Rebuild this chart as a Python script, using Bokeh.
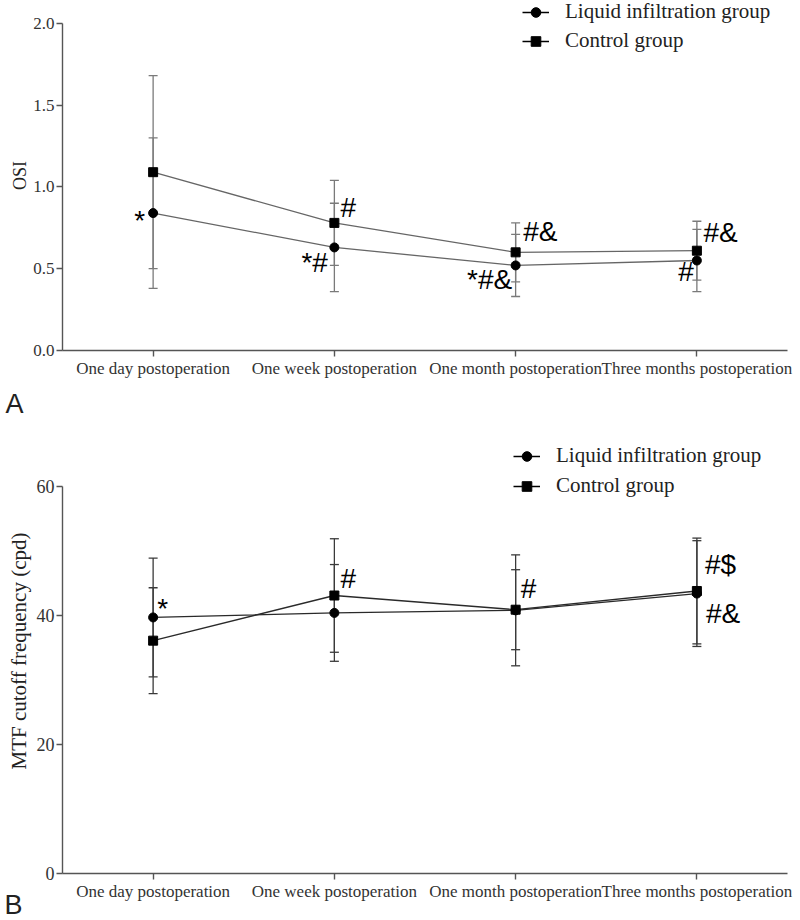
from bokeh.plotting import figure
from bokeh.models import (Range1d, FixedTicker, Whisker, TeeHead, ColumnDataSource,
                          Legend, LegendItem, Title, PrintfTickFormatter)
from bokeh.layouts import column
from bokeh.embed import file_html
from bokeh.resources import INLINE
from bokeh.core.properties import value

# ---------------- data ----------------
categories = ["One day postoperation", "One week postoperation",
              "One month postoperation", "Three months postoperation"]
x_pos = [0, 1, 2, 3]
series_names = ["Liquid infiltration group", "Control group"]

# Panel A: OSI (mean, SD)
osi_liquid = [0.84, 0.63, 0.52, 0.55]
osi_liquid_sd = [0.46, 0.27, 0.19, 0.19]
osi_control = [1.09, 0.78, 0.60, 0.61]
osi_control_sd = [0.59, 0.26, 0.18, 0.18]
osi_ticks = [0.0, 0.5, 1.0, 1.5, 2.0]

# Panel B: MTF cutoff frequency (mean, SD)
mtf_liquid = [39.7, 40.4, 40.8, 43.4]
mtf_liquid_sd = [9.2, 7.5, 8.6, 8.2]
mtf_control = [36.1, 43.1, 40.9, 43.8]
mtf_control_sd = [8.2, 8.8, 6.2, 8.2]
mtf_ticks = [0, 20, 40, 60]

# significance marks: text, category index, series it belongs to
osi_marks = ["*", "#", "*#", "#&", "*#&", "#&", "#"]
osi_mark_cat = [0, 1, 1, 2, 2, 3, 3]
osi_mark_series = ["liquid", "control", "liquid", "control", "liquid", "control", "liquid"]
mtf_marks = ["*", "#", "#", "#$", "#&"]
mtf_mark_cat = [0, 1, 2, 3, 3]
mtf_mark_series = ["liquid", "control", "control", "control", "liquid"]

# ---------------- layout / style (pixels) ----------------
osi_mark_align = ["right", "left", "right", "left", "right", "left", "right"]
osi_mark_dx = [-8, 6, -6.5, 7.5, -3.5, 6.5, -3]
osi_mark_dy = [7, -15, 14.6, -20.7, 14, -18.4, 11]
mtf_mark_align = ["left", "left", "left", "left", "left"]
mtf_mark_dx = [4, 6, 5, 8, 9]
mtf_mark_dy = [-8.7, -17, -21.2, -26.8, 20]

SERIF = "Liberation Serif"
SANS = "Liberation Sans"
NAN = float("nan")


def build_panel(height, borders, frame_px, axis_top_px, ticks, fmt, ylabel, ylabel_size,
                ylabel_standoff, tick_label_size, liq, liq_sd, ctl, ctl_sd, line_color,
                bar_color, marks, mark_cat, mark_series, mark_align, mark_dx, mark_dy,
                legend_loc, legend_spacing, panel_letter, letter_offset, letter_standoff):
    left, right, top, bottom = borders
    # frame reaches the top of the canvas; the axis itself stops at the last tick
    y_end = ticks[-1] * frame_px / (frame_px - axis_top_px)
    p = figure(width=800, height=height, output_backend="svg", toolbar_location=None,
               x_range=Range1d(-0.5, 3.5), y_range=Range1d(0, y_end),
               min_border_left=left, min_border_right=right,
               min_border_top=top, min_border_bottom=bottom)
    p.outline_line_color = None
    p.grid.visible = False
    p.background_fill_color = "white"
    p.border_fill_color = "white"

    xa = p.xaxis[0]
    ya = p.yaxis[0]
    xa.ticker = FixedTicker(ticks=x_pos)
    xa.major_label_overrides = {i: c for i, c in zip(x_pos, categories)}
    ya.ticker = FixedTicker(ticks=ticks)
    ya.formatter = PrintfTickFormatter(format=fmt)
    ya.bounds = (ticks[0], ticks[-1])
    for ax in (xa, ya):
        ax.axis_line_color = "#555555"
        ax.axis_line_width = 1.4
        ax.major_tick_line_color = "#555555"
        ax.major_tick_line_width = 1.4
        ax.major_tick_out = 6
        ax.major_tick_in = 0
        ax.minor_tick_out = 0
        ax.minor_tick_in = 0
        ax.major_label_text_font = SERIF
        ax.major_label_text_color = "#333333"
        ax.major_label_standoff = 2
    xa.major_label_text_font_size = "17px"
    ya.major_label_text_font_size = tick_label_size
    ya.axis_label = ylabel
    ya.axis_label_text_font = SERIF
    ya.axis_label_text_font_size = ylabel_size
    ya.axis_label_text_font_style = "normal"
    ya.axis_label_text_color = "#222222"
    ya.axis_label_standoff = ylabel_standoff

    # error bars
    for mean, sd in ((liq, liq_sd), (ctl, ctl_sd)):
        src = ColumnDataSource(dict(x=x_pos,
                                    upper=[m + s for m, s in zip(mean, sd)],
                                    lower=[m - s for m, s in zip(mean, sd)]))
        w = Whisker(source=src, base="x", upper="upper", lower="lower",
                    line_color=bar_color, line_width=1.3,
                    upper_head=TeeHead(size=9, line_color=bar_color, line_width=1.3),
                    lower_head=TeeHead(size=9, line_color=bar_color, line_width=1.3))
        p.add_layout(w)

    # lines + markers
    p.line(x_pos, liq, line_color=line_color, line_width=1.3)
    p.line(x_pos, ctl, line_color=line_color, line_width=1.3)
    p.scatter(x_pos, liq, marker="circle", size=9, color="black")
    p.scatter(x_pos, ctl, marker="square", size=9, color="black")

    # significance marks
    for align in ("left", "right"):
        idx = [i for i, a in enumerate(mark_align) if a == align]
        if not idx:
            continue
        src = ColumnDataSource(dict(
            x=[x_pos[mark_cat[i]] for i in idx],
            y=[(liq if mark_series[i] == "liquid" else ctl)[mark_cat[i]] for i in idx],
            t=[marks[i] for i in idx],
            dx=[mark_dx[i] for i in idx],
            dy=[mark_dy[i] for i in idx]))
        p.text(x="x", y="y", text="t", x_offset="dx", y_offset="dy", source=src,
               text_font=value(SANS), text_font_size="28px", text_color="black",
               text_align=align, text_baseline="alphabetic")

    # legend proxies (not drawn: NaN), so the legend glyphs are black
    l_line = p.line([NAN], [NAN], line_color="black", line_width=1.5)
    l_circ = p.scatter([NAN], [NAN], marker="circle", size=9, color="black")
    c_line = p.line([NAN], [NAN], line_color="black", line_width=1.5)
    c_sq = p.scatter([NAN], [NAN], marker="square", size=9, color="black")
    legend = Legend(items=[LegendItem(label=series_names[0], renderers=[l_line, l_circ]),
                           LegendItem(label=series_names[1], renderers=[c_line, c_sq])],
                    location=legend_loc, orientation="vertical", padding=0, margin=0,
                    spacing=legend_spacing, glyph_width=27, glyph_height=24,
                    label_height=24, label_standoff=16, label_text_font=SERIF,
                    label_text_font_size="21px", label_text_color="#222222",
                    border_line_alpha=0, background_fill_alpha=0)
    p.add_layout(legend)

    p.add_layout(Title(text=panel_letter, align="left", vertical_align="top",
                       offset=letter_offset, standoff=letter_standoff,
                       text_font=SANS, text_font_size="27px", text_font_style="normal",
                       text_color="#222222"), "below")
    return p


pA = build_panel(428, (60, 8, 0, 75), 353, 23, osi_ticks, "%.1f", "OSI", "18px", 0, "17px",
                 osi_liquid, osi_liquid_sd, osi_control, osi_control_sd,
                 "#666666", "#7a7a7a",
                 osi_marks, osi_mark_cat, osi_mark_series, osi_mark_align,
                 osi_mark_dx, osi_mark_dy,
                 (460, 297), 4, "A", -57, 16)

pB = build_panel(492, (62, 13, 0, 47), 445, 58, mtf_ticks, "%d", "MTF cutoff frequency (cpd)",
                 "21px", 3, "18px",
                 mtf_liquid, mtf_liquid_sd, mtf_control, mtf_control_sd,
                 "#2a2a2a", "#3a3a3a",
                 mtf_marks, mtf_mark_cat, mtf_mark_series, mtf_mark_align,
                 mtf_mark_dx, mtf_mark_dy,
                 (451, 375), 5, "B", -58, -28)

layout = column(pA, pB, spacing=0)
open("out.html", "w").write(file_html(layout, INLINE))
